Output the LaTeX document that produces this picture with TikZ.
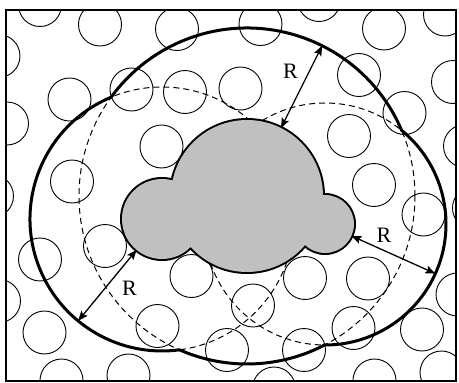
\documentclass[tikz,border=0pt]{standalone}
\usepackage{fontspec}
\setmainfont{Liberation Serif}
\usetikzlibrary{arrows.meta,calc}
\definecolor{cloudgray}{RGB}{192,192,192}
\begin{document}
\begin{tikzpicture}[x=1pt,y=1pt,
  hole/.style={line width=0.9pt},
  offdash/.style={line width=1pt,dash pattern=on 6pt off 4pt},
  envelope/.style={line width=3pt,line cap=round},
  radarrow/.style={line width=1.3pt,{Stealth[length=10pt,width=8pt,inset=2pt]}-{Stealth[length=10pt,width=8pt,inset=2pt]}},
  rlabel/.style={inner sep=0pt,font=\fontsize{22}{22}\selectfont}]
\useasboundingbox[fill=white] (0,0) rectangle (459,-383);
% centres of the three cloud circles
\coordinate (Lc) at (162,-219);
\coordinate (Bc) at (247,-196);
\coordinate (Rc) at (325,-224);
% background holes
\begin{scope}
\clip (6,-10) rectangle (456,-381);
\foreach \x/\y in {40/5,100/24.5,177/29,-1.5/56,69.5/99.5,131.5/89.5,185/92,240.5/88.5,
  7/123.5,161.5/146.5,72/181.5,-8/196,105/246,40/259.5,-1/301,44.5/332.5,61.5/380.5,
  128.5/375.5,191.5/276,157.5/326,227/350,253/305.5,305/278,304/350,353.5/328,
  274/388.5,368/278.5,374/185,423.5/214.5,474/208,457.5/294.5,422/329.5,441.5/372.5,
  374.5/380.5,260.5/24,319/0,384/28.5,445/14.5,359/75,404.5/113,453/82,349/136,465/146}
  \draw[hole] (\x,-\y) circle (21.5);
\end{scope}
% offset circles (hidden parts dashed)
\draw[offdash] (Lc) circle (132);
\draw[offdash] (Bc) circle (168);
\draw[offdash] (Rc) circle (121);
% outer envelope
\draw[envelope] ($(Lc)+(112.67:132)$) arc[start angle=112.67,end angle=277.61,radius=132];
\draw[envelope] ($(Bc)+(22.99:168)$) arc[start angle=22.99,end angle=143.97,radius=168];
\draw[envelope] ($(Bc)+(246.31:168)$) arc[start angle=246.31,end angle=297.52,radius=168];
\draw[envelope] ($(Rc)+(-90.18:121)$) arc[start angle=-90.18,end angle=50.69,radius=121];
% cloud
\draw[line width=4pt] (Lc) circle (40) (Bc) circle (76) (Rc) circle (29);
\fill[cloudgray] (Lc) circle (40) (Bc) circle (76) (Rc) circle (29);
% frame
\draw[line width=2.5pt] (6,-10) rectangle (456,-381);
% radius arrows
\coordinate (t1) at ($(Bc)+(63.43:76)$);
\coordinate (t2) at ($(Bc)+(63.43:168)$);
\coordinate (l1) at ($(Lc)+(230.55:40)$);
\coordinate (l2) at ($(Lc)+(230.55:132)$);
\coordinate (r1) at ($(Rc)+(-24.2:29)$);
\coordinate (r2) at ($(Rc)+(-24.2:121)$);
\draw[radarrow] (t1) -- (t2);
\draw[radarrow] (l1) -- (l2);
\draw[radarrow] (r1) -- (r2);
\node[rlabel] (Rtop) at (290.5,-71) {R};
\node[rlabel] (Rleft) at (129.5,-288) {R};
\node[rlabel] (Rright) at (384,-235) {R};
\end{tikzpicture}
\end{document}
